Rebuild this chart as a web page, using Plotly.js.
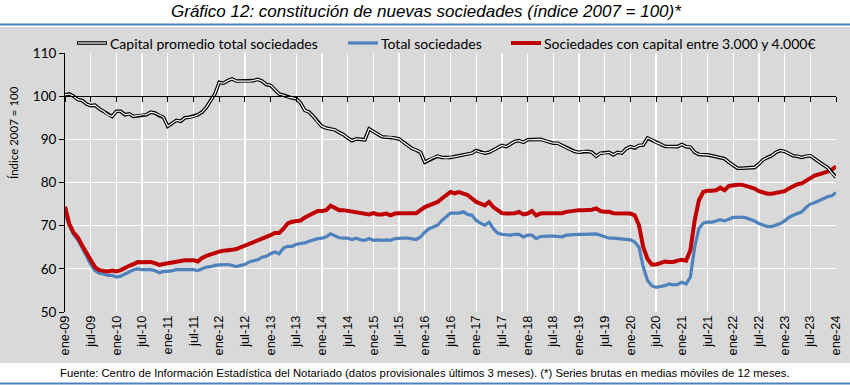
<!DOCTYPE html>
<html>
<head>
<meta charset="utf-8">
<script src="https://cdn.plot.ly/plotly-3.0.1.min.js"></script>
<style>html,body{margin:0;padding:0;background:#fff;}#chart{width:850px;height:385px;}</style>
</head>
<body>
<div id="chart"></div>
<script>
// ---- Data (monthly, ene-09 .. ene-24; 12-month moving averages, index 2007 = 100) ----
var tickLabels = ["ene-09","jul-09","ene-10","jul-10","ene-11","jul-11","ene-12","jul-12","ene-13","jul-13",
  "ene-14","jul-14","ene-15","jul-15","ene-16","jul-16","ene-17","jul-17","ene-18","jul-18",
  "ene-19","jul-19","ene-20","jul-20","ene-21","jul-21","ene-22","jul-22","ene-23","jul-23","ene-24"];

var seriesNames = ["Capital promedio total sociedades", "Total sociedades", "Sociedades con capital entre 3.000 y 4.000€"];

var capitalPromedio = [
 100.3,100.5,100,99.2,99,98.2,97.8,97.9,97.1,96.5,95.7,95.3,
 96.5,96.5,95.7,95.9,95.3,95.5,95.7,95.7,96.3,96.1,95.5,95.1,
 93.0,93.6,94.4,94.2,95,95.1,95.3,95.7,96.3,97.4,99,100.5,
 103.2,103,103.6,104,103.5,103.5,103.4,103.5,103.6,103.9,103.5,102.7,
 102.5,101.5,100.5,100.2,99.8,99.6,99.4,98.4,96.7,96.3,95.3,94,
 93,92.6,92.4,92.2,91.6,91.1,90.3,89.7,90.1,90,89.9,92.4,
 91.8,91.4,90.6,90.5,90.5,90.3,90.1,89.3,88.6,87.9,87.5,87,
 84.7,85.2,85.8,86.1,85.8,85.7,85.8,86,86.2,86.4,86.5,86.8,
 87.4,87,86.8,87,87.5,88,88.6,88.3,88.9,89.5,89.7,89.3,
 89.9,89.9,89.9,90,89.7,89.4,89.1,89.1,88.6,88,87.6,87.2,
 87,87.2,87.2,87,86.1,86.8,86.8,87,86.4,87,86.8,87.8,
 88.3,88,88.6,88.7,90.3,89.9,89.3,88.9,88.4,88.3,88.3,88.3,
 88.8,88.3,88.2,87,86.5,86.5,86.4,86.2,86,85.8,85.5,84.7,
 83.9,83.3,83.3,83.4,83.5,83.5,84.3,85.3,85.8,86.2,87,87.4,
 87.2,86.6,86.2,86.1,85.8,86.1,86.2,85.5,84.7,84.1,83.5,82.2,81.2];

var totalSociedades = [
 73,70,68,66.7,64.9,63,61,59.6,59,58.8,58.5,58.5,
 58.1,58.3,58.8,59.2,59.8,60,59.8,59.8,59.8,59.6,59.1,59.4,
 59.4,59.6,59.8,59.8,59.8,59.8,59.8,59.6,60,60.4,60.5,60.8,
 60.9,60.9,61,60.8,60.5,60.8,61,61.6,61.8,62.1,62.7,62.9,
 63.5,63.9,63.5,64.8,65.2,65.2,65.7,65.8,66,66.4,66.7,67,
 67.1,67.4,68.1,67.6,67.2,67.1,67.1,66.8,67.1,66.7,66.6,67,
 66.6,66.7,66.6,66.7,66.6,67,67.1,67.1,67.1,67,66.8,67.4,
 68.5,69.3,69.8,70.1,71.2,72,72.9,72.9,72.9,73.2,72.6,72.4,
 71.2,70.6,70.1,70.8,69.3,68.3,68,67.9,67.8,68,68,67.4,
 67.8,67.8,67,67.5,67.6,67.6,67.6,67.5,67.4,67.8,67.9,68,
 68,68,68,68.1,68.1,67.8,67.4,67.1,67.1,67,67,66.8,
 66.7,66.2,65,60.4,57.3,56.1,55.7,55.9,56.1,56.5,56.3,56.4,
 56.9,56.5,58.1,65,69.3,70.6,70.8,70.8,71.1,71.4,71.1,71.6,
 71.9,71.9,72,71.8,71.5,71.1,70.5,70.1,69.8,69.8,70.1,70.5,
 71.1,71.9,72.4,72.9,73.2,74.2,75,75.3,75.8,76.3,76.7,76.9,77.7];

var capital3000a4000 = [
 74.4,70.4,68.4,67.3,65.4,63.8,62.3,60.4,59.7,59.6,59.4,59.6,
 59.4,59.7,60.3,60.7,61.1,61.6,61.5,61.5,61.6,61.3,60.9,61.1,
 61.3,61.6,61.8,61.9,62,62,62,61.7,62.5,63,63.4,63.6,
 64,64.2,64.2,64.4,64.6,65,65.4,65.7,66,66.4,67,67.4,
 67.8,68.3,68.3,69.3,70.5,70.9,71.1,71.2,71.9,72.4,72.9,73.4,
 73.4,73.6,74.6,74,73.6,73.6,73.4,73.4,73.2,73,72.8,72.6,
 72.9,72.6,72.6,72.8,72.4,72.8,72.9,72.9,73.1,72.9,72.9,73.6,
 74.3,74.7,75.1,75.5,76.3,77.1,77.8,77.5,77.8,77.4,77.1,76.3,
 75.5,75.1,74.7,75.5,74.3,73.6,72.9,72.8,72.8,72.9,73.2,72.6,
 72.8,73.4,72.4,72.8,72.9,72.9,73.1,73.1,72.9,73.2,73.4,73.4,
 73.6,73.6,73.6,73.7,74,73.4,73.2,73.2,72.9,72.9,72.9,72.8,
 72.8,72.4,70.1,65,62.3,61,61,61.3,61.7,61.6,61.6,61.9,
 62.1,61.9,64.3,71.2,75.9,77.8,78.1,78.1,78.2,78.8,78.2,79.2,
 79.4,79.5,79.5,79.2,79,78.6,78,77.6,77.4,77.4,77.6,77.8,
 78,78.6,79.2,79.6,79.8,80.4,81.2,81.6,81.9,82.1,82.5,83,83.7];

// ---- Layout helpers (pixel -> paper) ----
var W = 850, H = 385, L = 65, R = 14, T = 53, B = 73;
var PW = W - L - R, PH = H - T - B;
function px(x){ return (x - L) / PW; }
function py(y){ return (H - B - y) / PH; }

var months = capitalPromedio.map(function(_, i){ return i; });
var tickVals = tickLabels.map(function(_, i){ return i * 6; });

var BLUE = '#4f81bd', RED = '#c00000';

var traces = [
  {x: months, y: totalSociedades, type: 'scatter', mode: 'lines', name: seriesNames[1],
   line: {color: BLUE, width: 3.2}, showlegend: false, hoverinfo: 'skip'},
  {x: months, y: capital3000a4000, type: 'scatter', mode: 'lines', name: seriesNames[2],
   line: {color: RED, width: 4}, showlegend: false, hoverinfo: 'skip'},
  {x: months, y: capitalPromedio, type: 'scatter', mode: 'lines', name: seriesNames[0],
   line: {color: '#000000', width: 3.6}, showlegend: false, hoverinfo: 'skip'},
  {x: months, y: capitalPromedio, xaxis: 'x2', yaxis: 'y', type: 'scatter', mode: 'lines', name: seriesNames[0] + ' (centro)',
   line: {color: '#ffffff', width: 1.2}, showlegend: false, hoverinfo: 'skip'}
];

var shapes = [
  {type: 'rect', xref: 'paper', yref: 'paper', x0: px(0), x1: px(W), y0: py(27), y1: py(363),
   fillcolor: '#d9d9d9', line: {width: 0}, layer: 'below'},
  {type: 'line', xref: 'paper', yref: 'paper', x0: px(0), x1: px(W), y0: py(24.5), y1: py(24.5),
   line: {color: BLUE, width: 2}},
  {type: 'line', xref: 'paper', yref: 'paper', x0: px(0), x1: px(W), y0: py(383.5), y1: py(383.5),
   line: {color: BLUE, width: 2}},
  // legend swatches
  {type: 'line', xref: 'paper', yref: 'paper', x0: px(77), x1: px(107), y0: py(43), y1: py(43),
   line: {color: '#000', width: 3.6}},
  {type: 'line', xref: 'paper', yref: 'paper', x0: px(78), x1: px(106), y0: py(43), y1: py(43),
   line: {color: '#fff', width: 1.2}},
  {type: 'line', xref: 'paper', yref: 'paper', x0: px(348), x1: px(378), y0: py(43), y1: py(43),
   line: {color: BLUE, width: 3.2}},
  {type: 'line', xref: 'paper', yref: 'paper', x0: px(511), x1: px(541), y0: py(43), y1: py(43),
   line: {color: RED, width: 4}}
];

var legFont = {family: 'Lato, "Open Sans", sans-serif', size: 14, color: '#000'};
var annotations = [
  {text: 'Gráfico 12: constitución de nuevas sociedades (índice 2007 = 100)*', xref: 'paper', yref: 'paper',
   x: px(426), y: py(11), xanchor: 'center', yanchor: 'middle', showarrow: false,
   font: {family: '"Liberation Sans Narrow", "Liberation Sans", Arial, sans-serif', size: 17, color: '#000', style: 'italic'}},
  {text: 'Fuente: Centro de Información Estadística del Notariado (datos provisionales últimos 3 meses). (*) Series brutas en medias móviles de 12 meses.',
   xref: 'paper', yref: 'paper', x: px(425), y: py(373), xanchor: 'center', yanchor: 'middle', showarrow: false,
   font: {family: '"Liberation Sans Narrow", "Liberation Sans", Arial, sans-serif', size: 11.3, color: '#000'}},
  {text: 'Índice 2007 = 100', xref: 'paper', yref: 'paper', x: px(13), y: py(133), xanchor: 'center', yanchor: 'middle',
   textangle: -90, showarrow: false, font: {family: 'Lato, "Open Sans", sans-serif', size: 11.5, color: '#000'}},
  {text: seriesNames[0], xref: 'paper', yref: 'paper', x: px(108), y: py(43), xanchor: 'left', yanchor: 'middle', showarrow: false, font: legFont},
  {text: seriesNames[1], xref: 'paper', yref: 'paper', x: px(379), y: py(43), xanchor: 'left', yanchor: 'middle', showarrow: false, font: legFont},
  {text: seriesNames[2], xref: 'paper', yref: 'paper', x: px(542), y: py(43), xanchor: 'left', yanchor: 'middle', showarrow: false, font: legFont}
];

var layout = {
  width: W, height: H,
  margin: {l: L, r: R, t: T, b: B, pad: 0},
  paper_bgcolor: '#ffffff',
  plot_bgcolor: 'rgba(0,0,0,0)',
  showlegend: false,
  xaxis: {
    range: [0, 180], tickvals: tickVals, ticktext: tickLabels, tickangle: -90,
    showgrid: true, gridcolor: '#ffffff', gridwidth: 1.3, zeroline: false, showline: false, ticks: '',
    tickfont: {family: '"Liberation Sans", Arial, sans-serif', size: 12.8, color: '#000'},
    fixedrange: true
  },
  xaxis2: {
    overlaying: 'x', anchor: 'free', position: 50 / 60, side: 'bottom', range: [0, 180],
    tickvals: tickVals, showticklabels: false, ticks: 'outside', ticklen: 5, tickcolor: '#000', tickwidth: 1,
    showline: true, linecolor: '#000', linewidth: 1, showgrid: false, zeroline: false, fixedrange: true
  },
  yaxis: {
    range: [50, 110], dtick: 10, tick0: 50, showgrid: true, gridcolor: '#ffffff', gridwidth: 1.3,
    zeroline: false, showline: true, linecolor: '#000', linewidth: 1, ticks: 'outside', ticklen: 5,
    tickcolor: '#000', tickfont: {family: 'Lato, "Open Sans", sans-serif', size: 13.5, color: '#000'}, fixedrange: true
  },
  shapes: shapes,
  annotations: annotations
};

Plotly.newPlot('chart', traces, layout, {staticPlot: true, displayModeBar: false});
</script>
</body>
</html>
